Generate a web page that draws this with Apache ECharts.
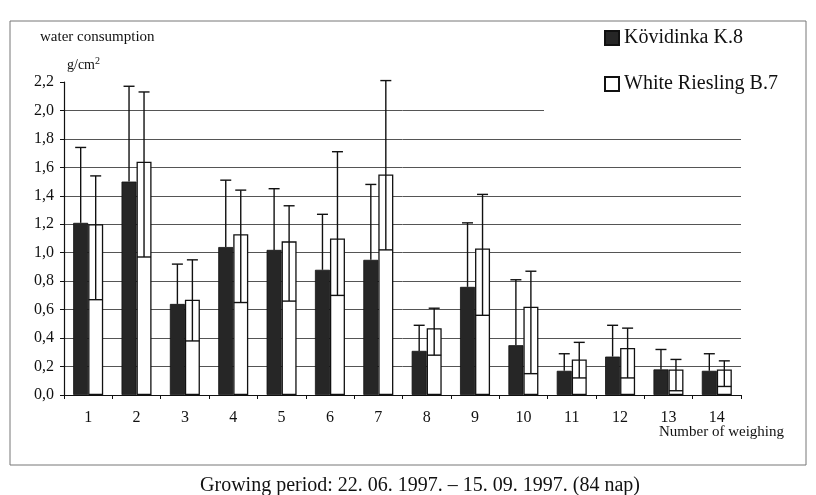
<!DOCTYPE html>
<html>
<head>
<meta charset="utf-8">
<script src="https://cdn.jsdelivr.net/npm/echarts@6/dist/echarts.min.js"></script>
<style>
html,body{margin:0;padding:0;background:#fff;}
#chart{width:816px;height:495px;}
</style>
</head>
<body>
<div id="chart"></div>
<script>
const categories = ['1','2','3','4','5','6','7','8','9','10','11','12','13','14'];
const kovidinkaMean  = [1.21, 1.50, 0.64, 1.04, 1.02, 0.88, 0.95, 0.31, 0.76, 0.35, 0.17, 0.27, 0.18, 0.17];
const kovidinkaUpper = [1.74, 2.17, 0.92, 1.51, 1.45, 1.27, 1.48, 0.49, 1.21, 0.81, 0.29, 0.49, 0.32, 0.29];
const rieslingMean   = [1.20, 1.64, 0.67, 1.13, 1.08, 1.10, 1.55, 0.47, 1.03, 0.62, 0.25, 0.33, 0.18, 0.18];
const rieslingLower  = [0.67, 0.97, 0.38, 0.65, 0.66, 0.70, 1.02, 0.28, 0.56, 0.15, 0.12, 0.12, 0.03, 0.06];
const rieslingUpper  = [1.54, 2.13, 0.95, 1.44, 1.33, 1.71, 2.21, 0.61, 1.41, 0.87, 0.37, 0.47, 0.25, 0.24];
const seriesNames = ['Kövidinka K.8', 'White Riesling B.7'];

const FONT = '"Liberation Serif","DejaVu Serif",serif';
const BAR_W = 15;

function errRenderer(offset, capHalf, lowerCapHalf) {
  return function (params, api) {
    const i = api.value(0);
    const p0 = api.coord([i, api.value(1)]);
    const p1 = api.coord([i, api.value(2)]);
    const x = p0[0] + offset;
    const st = {stroke: '#111', lineWidth: 1.4};
    const children = [
      {type: 'line', shape: {x1: x, y1: p0[1], x2: x, y2: p1[1]}, style: st},
      {type: 'line', shape: {x1: x - capHalf, y1: p1[1], x2: x + capHalf, y2: p1[1]}, style: st}
    ];
    if (lowerCapHalf) {
      children.push({type: 'line', shape: {x1: x - lowerCapHalf, y1: p0[1], x2: x + lowerCapHalf, y2: p0[1]}, style: st});
    }
    return {type: 'group', children: children};
  };
}

const chart = echarts.init(document.getElementById('chart'), null, {renderer: 'canvas'});
chart.setOption({
  backgroundColor: '#fff',
  animation: false,
  textStyle: {fontFamily: FONT},
  grid: {left: 64, right: 75, top: 82, bottom: 100},
  legend: {
    data: seriesNames,
    orient: 'vertical',
    left: 544, top: 23,
    padding: [5, 10, 20, 60],
    backgroundColor: '#fff',
    itemWidth: 14, itemHeight: 14, itemGap: 26,
    icon: 'rect',
    selectedMode: false,
    textStyle: {fontFamily: FONT, fontSize: 20, color: '#111', lineHeight: 20}
  },
  graphic: [
    {type: 'rect', shape: {x: 10, y: 21, width: 796, height: 444}, style: {fill: 'none', stroke: '#777', lineWidth: 1}, z: 100},
    {type: 'text', left: 40, top: 30, style: {text: 'water consumption', font: '15px ' + FONT, fill: '#111'}},
    {type: 'text', left: 67, top: 56, style: {text: '{a|g/cm}{s|2}', rich: {a: {font: '14px ' + FONT, fill: '#111', verticalAlign: 'bottom'}, s: {font: '10px ' + FONT, fill: '#111', verticalAlign: 'top', padding: [0, 0, 6, 0]}}}},
    {type: 'text', left: 659, top: 425, style: {text: 'Number of weighing', font: '15px ' + FONT, fill: '#111'}},
    {type: 'text', x: 420, y: 486, style: {text: 'Growing period: 22. 06. 1997. – 15. 09. 1997. (84 nap)', font: '20px ' + FONT, fill: '#111', textAlign: 'center', textVerticalAlign: 'middle'}}
  ],
  xAxis: {
    type: 'category',
    data: categories,
    axisLine: {lineStyle: {color: '#111', width: 1.2}},
    axisTick: {show: true, length: 4, lineStyle: {color: '#111'}},
    axisLabel: {fontFamily: FONT, fontSize: 16, color: '#111', margin: 15}
  },
  yAxis: {
    type: 'value',
    min: 0, max: 2.2, interval: 0.2,
    axisLine: {show: true, lineStyle: {color: '#111', width: 1.2}},
    axisTick: {show: true, length: 4, lineStyle: {color: '#111'}},
    axisLabel: {fontFamily: FONT, fontSize: 16, color: '#111', margin: 10,
      formatter: v => v.toFixed(1).replace('.', ',')},
    splitLine: {show: true, showMaxLine: false, lineStyle: {color: '#555', width: 1}}
  },
  series: [
    {
      name: seriesNames[0], type: 'bar', data: kovidinkaMean,
      barWidth: BAR_W, barGap: '0%',
      itemStyle: {color: '#262626', borderColor: '#111', borderWidth: 0.8}
    },
    {
      name: seriesNames[1], type: 'bar', data: rieslingMean,
      barWidth: BAR_W, barGap: '0%',
      itemStyle: {color: '#fff', borderColor: '#111', borderWidth: 1.3}
    },
    {
      type: 'custom', name: 'errK',
      renderItem: errRenderer(-BAR_W / 2, 5.5, 0),
      data: kovidinkaMean.map((m, i) => [i, m, kovidinkaUpper[i]]),
      encode: {x: 0, y: [1, 2]}, z: 5, silent: true
    },
    {
      type: 'custom', name: 'errR',
      renderItem: errRenderer(BAR_W / 2, 5.5, 7),
      data: rieslingLower.map((l, i) => [i, l, rieslingUpper[i]]),
      encode: {x: 0, y: [1, 2]}, z: 5, silent: true
    }
  ]
});
</script>
</body>
</html>
